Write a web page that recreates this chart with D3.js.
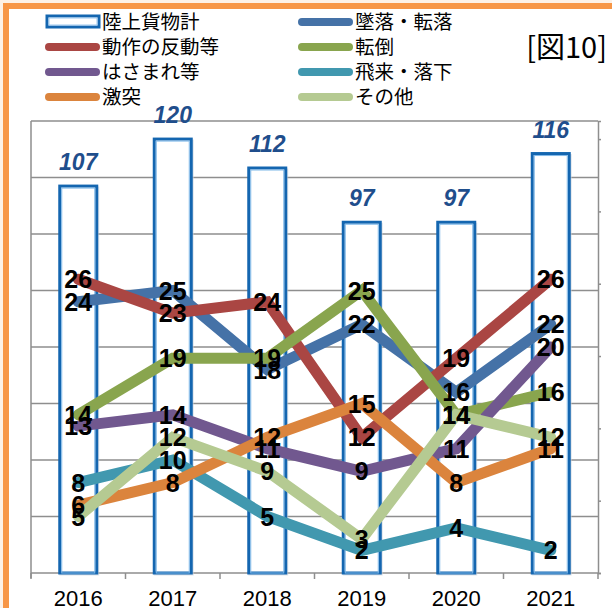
<!DOCTYPE html>
<html><head><meta charset="utf-8">
<script src="https://cdn.jsdelivr.net/npm/d3@7/dist/d3.min.js"></script>
<style>
html,body{margin:0;padding:0;background:#fdf1e6;}
svg{display:block;}
</style></head>
<body>
<svg id="c" width="612" height="608"></svg>
<script>
// ---- data ----
const years = ["2016","2017","2018","2019","2020","2021"];
const totalName = "陸上貨物計";
const totalValues = [107, 120, 112, 97, 97, 116];
const seriesNames = ["墜落・転落","動作の反動等","転倒","はさまれ等","飛来・落下","激突","その他"];
const fallValues     = [24, 25, 18, 22, 16, 22];
const motionValues   = [26, 23, 24, 12, 19, 26];
const tumbleValues   = [14, 19, 19, 25, 14, 16];
const pinchValues    = [13, 14, 11,  9, 11, 20];
const flyingValues   = [ 8, 10,  5,  2,  4,  2];
const collideValues  = [ 6,  8, 12, 15,  8, 11];
const otherValues    = [ 5, 12,  9,  3, 14, 12];
const barAxisMax = 125;
const barTicks = [0, 20, 40, 60, 80, 100, 120];
const lineAxisMax = 40;
const lineGridTicks = [0, 5, 10, 15, 20, 25, 30, 35, 40];
const figLabel = "[図10]";

const seriesValues = [fallValues, motionValues, tumbleValues, pinchValues, flyingValues, collideValues, otherValues];
const colors = ["#4572a7","#aa4643","#89a54e","#71588f","#4198af","#db843d","#b5ca92"];

const svg = d3.select("#c");
const m = {left: 31, right: 598, top: 121, bottom: 573};

// background frame
svg.append("rect").attr("x", 6).attr("y", 6).attr("width", 640).attr("height", 640)
  .attr("fill", "#ffffff").attr("stroke", "#f79646").attr("stroke-width", 6);

const x = d3.scaleBand().domain(years).range([m.left, m.right]).paddingInner(0).paddingOuter(0);
const yBar = d3.scaleLinear().domain([0, barAxisMax]).range([m.bottom, m.top]);
const yLine = d3.scaleLinear().domain([0, lineAxisMax]).range([m.bottom, m.top]);

// gridlines (secondary axis)
svg.append("g").selectAll("line").data(lineGridTicks).join("line")
  .attr("x1", m.left).attr("x2", m.right)
  .attr("y1", d => yLine(d)).attr("y2", d => yLine(d))
  .attr("stroke", "#8e8e8e").attr("stroke-width", 1.5);

// left axis line
svg.append("line").attr("x1", m.left).attr("x2", m.left).attr("y1", m.top).attr("y2", m.bottom + 5)
  .attr("stroke", "#8e8e8e").attr("stroke-width", 1.5);
// right axis
const rightAxis = d3.axisRight(yBar).tickValues(barTicks).tickSize(3).tickFormat("");
const ra = svg.append("g").attr("transform", `translate(${m.right},0)`).call(rightAxis);
ra.select(".domain").attr("stroke", "#8e8e8e").attr("stroke-width", 1.5);
ra.selectAll(".tick line").attr("stroke", "#8e8e8e").attr("stroke-width", 1.5);

// bottom axis
const bottomAxis = d3.axisBottom(x).tickSize(0).tickPadding(0);
const ba = svg.append("g").attr("transform", `translate(0,${m.bottom})`).call(bottomAxis);
ba.select(".domain").remove();
ba.selectAll(".tick text").attr("y", 33).attr("dy", 0)
  .attr("font-family", "Liberation Sans, Arial, sans-serif").attr("font-size", 22).attr("fill", "#000");
// category boundary ticks
svg.append("g").selectAll("line").data(years.concat(["_end"])).join("line")
  .attr("x1", (d,i) => m.left + i * x.step()).attr("x2", (d,i) => m.left + i * x.step())
  .attr("y1", m.bottom).attr("y2", m.bottom + 6)
  .attr("stroke", "#8e8e8e").attr("stroke-width", 1.5);

// bars
const bw = 37;
const bars = svg.append("g");
bars.selectAll("rect.shadow").data(totalValues).join("rect").attr("class","shadow")
  .attr("x", (d,i) => x(years[i]) + x.bandwidth()/2 - bw/2 + 1)
  .attr("y", d => yBar(d) + 2)
  .attr("width", bw).attr("height", d => yBar(0) - yBar(d) - 1)
  .attr("fill", "none").attr("stroke", "#c9d3de").attr("stroke-width", 3).attr("opacity", 0.6);
bars.selectAll("rect.bar").data(totalValues).join("rect").attr("class","bar")
  .attr("x", (d,i) => x(years[i]) + x.bandwidth()/2 - bw/2)
  .attr("y", d => yBar(d))
  .attr("width", bw).attr("height", d => yBar(0) - yBar(d))
  .attr("fill", "#ffffff").attr("stroke", "#1466b0").attr("stroke-width", 3);
bars.selectAll("rect.inner").data(totalValues).join("rect").attr("class","inner")
  .attr("x", (d,i) => x(years[i]) + x.bandwidth()/2 - bw/2 + 2)
  .attr("y", d => yBar(d) + 2)
  .attr("width", bw - 4).attr("height", d => yBar(0) - yBar(d) - 2)
  .attr("fill", "none").attr("stroke", "#7fb8e8").attr("stroke-width", 1);
bars.selectAll("text").data(totalValues).join("text")
  .attr("x", (d,i) => x(years[i]) + x.bandwidth()/2)
  .attr("y", d => yBar(d) - 16)
  .attr("text-anchor", "middle")
  .attr("font-family", "Liberation Sans, Arial, sans-serif").attr("font-size", 23)
  .attr("font-weight", "bold").attr("font-style", "italic").attr("fill", "#1f4e8c")
  .text(d => d);

// lines
const line = d3.line().x((d,i) => x(years[i]) + x.bandwidth()/2).y(d => yLine(d));
svg.append("g").selectAll("path").data(seriesValues).join("path")
  .attr("d", d => line(d)).attr("fill", "none")
  .attr("stroke", (d,i) => colors[i]).attr("stroke-width", 11)
  .attr("stroke-linecap", "round").attr("stroke-linejoin", "miter");

// line labels
const lab = svg.append("g");
seriesValues.forEach((vals, s) => {
  lab.selectAll(null).data(vals).join("text")
    .attr("x", (d,i) => x(years[i]) + x.bandwidth()/2)
    .attr("y", d => yLine(d))
    .attr("dy", "0.36em")
    .attr("text-anchor", "middle")
    .attr("font-family", "Liberation Sans, Arial, sans-serif").attr("font-size", 25)
    .attr("font-weight", "bold").attr("fill", "#000")
    .text(d => d);
});

// legend
const legendItems = [{name: totalName, type: "bar"}].concat(seriesNames.map((n,i) => ({name: n, type: "line", color: colors[i]})));
const colX = [45, 298];
const rowY = [22, 47, 72, 97];
const lg = svg.append("g");
legendItems.forEach((it, k) => {
  const cx = colX[k % 2], cy = rowY[Math.floor(k / 2)];
  if (it.type === "bar") {
    lg.append("rect").attr("x", cx + 2).attr("y", cy - 6).attr("width", 52).attr("height", 11)
      .attr("fill", "#ffffff").attr("stroke", "#1466b0").attr("stroke-width", 3);
    lg.append("rect").attr("x", cx + 4).attr("y", cy - 4).attr("width", 48).attr("height", 7)
      .attr("fill", "none").attr("stroke", "#9cc8ef").attr("stroke-width", 1);
  } else {
    lg.append("line").attr("x1", cx + 4).attr("x2", cx + 51).attr("y1", cy).attr("y2", cy)
      .attr("stroke", it.color).attr("stroke-width", 8).attr("stroke-linecap", "round");
  }
  lg.append("text").attr("x", cx + 57).attr("y", cy).attr("dy", "0.35em")
    .attr("font-family", "Noto Sans CJK JP, sans-serif").attr("font-size", 19.5).attr("fill", "#000")
    .text(it.name);
});
svg.append("text").attr("x", 607).attr("y", 48).attr("dy", "0.35em").attr("text-anchor", "end")
  .attr("font-family", "Noto Sans CJK JP, sans-serif").attr("font-size", 29).attr("fill", "#000")
  .text(figLabel);
</script>
</body></html>
